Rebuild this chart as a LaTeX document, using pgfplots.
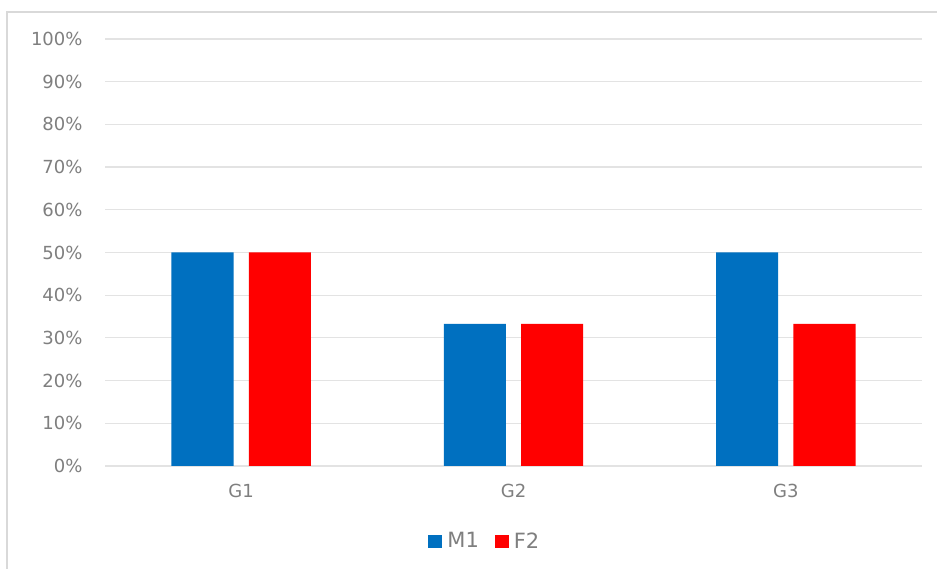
\documentclass[border=0pt]{standalone}
\usepackage{pgfplots}
\pgfplotsset{compat=1.18}
\usepackage{fontspec}
\setmainfont{DejaVu Sans}
\definecolor{mblue}{HTML}{0070C0}
\definecolor{fred}{HTML}{FF0000}
\definecolor{txt}{HTML}{7F7F7F}
\definecolor{gridc}{HTML}{E3E3E3}
\begin{document}
\begin{tikzpicture}
\path[use as bounding box] (0pt,0pt) rectangle (937pt,569pt);
\fill[white] (0pt,0pt) rectangle (937pt,569pt);
\draw[gray!30, line width=1.5pt] (7pt,-2pt) -- (7pt,557pt) -- (940pt,557pt);
\begin{axis}[at={(105pt,103pt)}, anchor=south west, scale only axis,
  width=817pt, height=427pt,
  xmin=-0.5, xmax=2.5, ymin=0, ymax=100,
  axis line style={draw=none},
  major tick length=0pt,
  ytick={0,10,20,30,40,50,60,70,80,90,100},
  yticklabels={0\%,10\%,20\%,30\%,40\%,50\%,60\%,70\%,80\%,90\%,100\%},
  xtick={0,1,2}, xticklabels={G1,G2,G3},
  ymajorgrids, grid style={gridc, line width=1.2pt},
  tick label style={font=\fontsize{18}{21}\selectfont, text=txt},
  yticklabel style={xshift=-19pt},
  xticklabel style={yshift=-15pt},
  legend columns=2,
  legend style={draw=none, fill=none, at={(axis description cs:0.465,-0.1756)}, anchor=center,
    font=\fontsize{21}{24}\selectfont, text=txt,
    /tikz/every odd column/.append style={column sep=3pt},
    /tikz/every even column/.append style={column sep=14pt}},
  legend image code/.code={\fill[#1] (0pt,-7pt) rectangle (14pt,6pt);},
]
\addplot[ybar, bar width=0.228, bar shift=-0.142, fill=mblue, draw=none]
  coordinates {(0,50) (1,33.3) (2,50)};
\addlegendentry{M1}
\addplot[ybar, bar width=0.228, bar shift=0.142, fill=fred, draw=none]
  coordinates {(0,50) (1,33.3) (2,33.3)};
\addlegendentry{F2}
\end{axis}
\end{tikzpicture}
\end{document}
